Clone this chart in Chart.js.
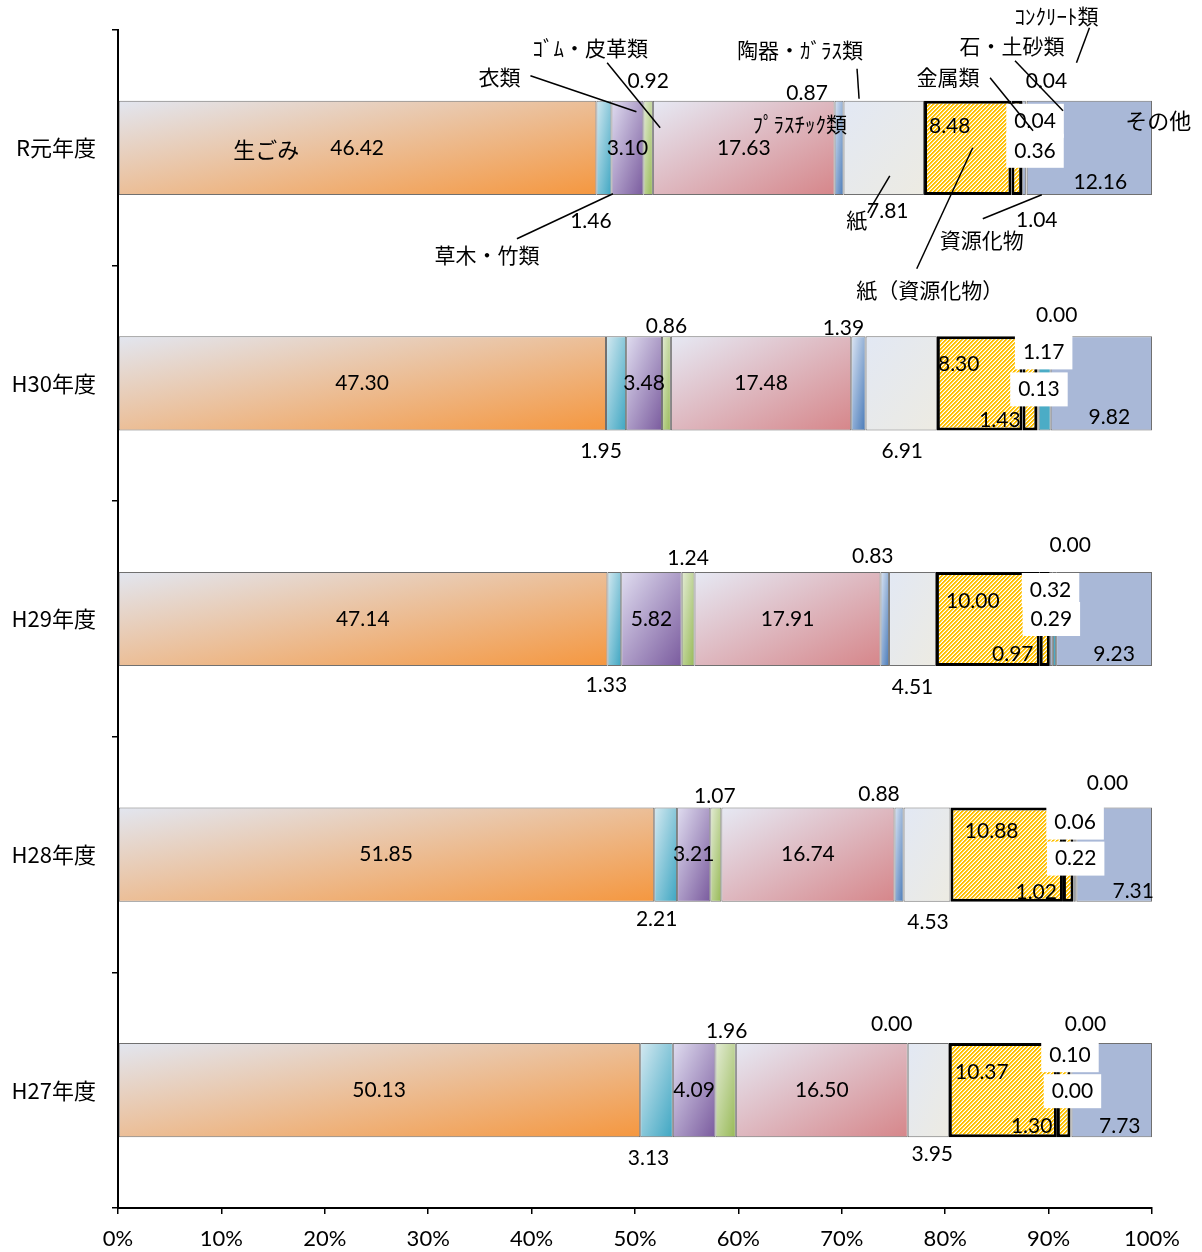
<!DOCTYPE html>
<html><head><meta charset="utf-8">
<script src="https://cdn.jsdelivr.net/npm/chart.js@4.4.1/dist/chart.umd.min.js"></script>
<style>html,body{margin:0;padding:0;background:#fff;}#wrap{width:1202px;height:1252px;}</style>
</head><body><div id="wrap"><canvas id="c" width="1202" height="1252"></canvas></div>
<script>
// ---- data ----
const years = ['R元年度','H30年度','H29年度','H28年度','H27年度'];
const categories = ['生ごみ','草木・竹類','衣類','ｺﾞﾑ・皮革類','ﾌﾟﾗｽﾁｯｸ類','陶器・ｶﾞﾗｽ類','紙','紙（資源化物）','資源化物','石・土砂類','金属類','ｺﾝｸﾘｰﾄ類','その他'];
const foodWaste     = [46.42, 47.30, 47.14, 51.85, 50.13];
const grassWood     = [1.46, 1.95, 1.33, 2.21, 3.13];
const clothing      = [3.10, 3.48, 5.82, 3.21, 4.09];
const rubberLeather = [0.92, 0.86, 1.24, 1.07, 1.96];
const plastics      = [17.63, 17.48, 17.91, 16.74, 16.50];
const ceramicsGlass = [0.87, 1.39, 0.83, 0.88, 0.00];
const paper         = [7.81, 6.91, 4.51, 4.53, 3.95];
const paperRecyc    = [8.48, 8.30, 10.00, 10.88, 10.37];
const recyclables   = [1.04, 1.43, 0.97, 1.02, 1.30];
const stoneSoil     = [0.36, 0.13, 0.29, 0.22, 0.00];
const metals        = [0.04, 1.17, 0.32, 0.06, 0.10];
const concrete      = [0.04, 0.00, 0.00, 0.00, 0.00];
const others        = [12.16, 9.82, 9.23, 7.31, 7.73];
const tickPercents  = [0,10,20,30,40,50,60,70,80,90,100];

const values = [foodWaste, grassWood, clothing, rubberLeather, plastics, ceramicsGlass, paper, paperRecyc, recyclables, stoneSoil, metals, concrete, others];
const totals = years.map((_, i) => values.reduce((s, v) => s + v[i], 0));
const pct = values.map(v => v.map((x, i) => x / totals[i] * 100));

// ---- styles ----
const F = "Lato, 'Noto Sans CJK JP', sans-serif";
const FJ = "'Noto Sans CJK JP', sans-serif";
const BAR_FRAC = 0.4;
const fills = [
  {start:'#e2e6f0', end:'#f5973f'},
  {start:'#d4e9f1', end:'#3ea6c2'},
  {start:'#e0ddf0', end:'#7a5b9e'},
  {start:'#e4ecd6', end:'#97b955'},
  {start:'#e6e9f4', end:'#d6868a'},
  {start:'#dde6f4', end:'#4779b8'},
  {start:'#e2e8f4', end:'#edebe2'},
  'hatch', 'hatch',
  {start:'#c9d3e6', end:'#8597ba'},
  {flat:'#4bacc6'},
  {flat:'#4bacc6'},
  {flat:'#a9b8d7'}
];
const boxed = [false,false,false,false,false,false,false,false,false,true,true,false,false];
const valueOffsets = [
  [[0,0],[0,0],[0,0],[0,0],[0,0]],
  [[-13,73],[-15,68],[-8,66],[-9,65],[-8,68]],
  [[0,0],[0,0],[0,0],[0,0],[0,0]],
  [[0,-67],[0,-57],[0,-61],[-1,-58],[1,-59]],
  [[0,0],[0,0],[0,0],[0,0],[0,0]],
  [[-32,-55],[-15,-55],[-12,-63],[-20,-60],[-16,-66]],
  [[4,63],[1,68],[0,68],[1,68],[4,64]],
  [[-18,-22],[-21,-19],[-15,-18],[-15,-23],[-21,-18]],
  [[20,72],[-30,37],[-32,35],[-32,38],[-32,36]],
  [[11,3],[1,6],[0,0],[1,4],[2,1]],
  [[9,-27],[-1,-31],[-4,-29],[-1,-32],[-1,-35]],
  [[20,-67],[6,-68],[14,-74],[31,-71],[14,-66]],
  [[11,34],[8,34],[10,35],[19,37],[8,36]]
];
// category annotations on the first row: offsets from segment centre
const notes = [
  {ds:0, dx:-91, dy:3, size:22},
  {ds:1, dx:-117, dy:108, line:[-87,91,9,46]},
  {ds:2, dx:-128, dy:-70, line:[-97,-72,9,-36]},
  {ds:3, dx:-58, dy:-99, line:[-41,-85,12,-20]},
  {ds:4, dx:56, dy:-23},
  {ds:5, dx:-39, dy:-97, line:[18,-79,20,-49]},
  {ds:6, dx:-27, dy:73, line:[-16,65,6,28]},
  {ds:7, dx:-38, dy:143, line:[-51,121,5,0]},
  {ds:8, dx:-35, dy:93, line:[-34,71,25,47]},
  {ds:9, dx:-12, dy:-101, line:[-9,-87,39,-37]},
  {ds:10, dx:-78, dy:-70, line:[-36,-70,7,-17]},
  {ds:11, dx:30, dy:-131, size:21, line:[63,-120,50,-85]},
  {ds:12, dx:69, dy:-26, size:22}
];

function makeHatch() {
  const s = 8, cv = document.createElement('canvas');
  cv.width = s; cv.height = s;
  const g = cv.getContext('2d');
  const cols = ['#ffc000', '#ffc000', '#ffe38a', '#ffffff'];
  for (let x = 0; x < s; x++) for (let y = 0; y < s; y++) {
    g.fillStyle = cols[(x + y) % 4];
    g.fillRect(x, y, 1, 1);
  }
  return document.getElementById('c').getContext('2d').createPattern(cv, 'repeat');
}
const hatch = makeHatch();

function segGeom(chart, di, i) {
  const xs = chart.scales.x, ys = chart.scales.y;
  if (!xs || !ys) return null;
  let s = 0;
  for (let k = 0; k < di; k++) s += pct[k][i];
  const x0 = xs.getPixelForValue(s), x1 = xs.getPixelForValue(s + pct[di][i]);
  const h = (ys.bottom - ys.top) / years.length * BAR_FRAC;
  const cy = ys.getPixelForValue(i);
  if (![x0, x1, h, cy].every(Number.isFinite)) return null;
  return {x0, x1, top: cy - h / 2, bottom: cy + h / 2, cx: (x0 + x1) / 2, cy};
}

function fillFor(di) {
  const st = fills[di];
  if (st === 'hatch') return hatch;
  if (st.flat) return st.flat;
  return (ctx) => {
    const chart = ctx.chart;
    if (ctx.type !== 'data') return st.end;
    const g = segGeom(chart, di, ctx.dataIndex);
    if (!g) return st.end;
    const w = Math.max(g.x1 - g.x0, 0.5), h = Math.max(g.bottom - g.top, 0.5);
    const L2 = w * w + h * h;
    const ex = g.x0 + 2 * w * h * h / L2, ey = g.top + 2 * w * w * h / L2;
    if (![ex, ey].every(Number.isFinite)) return st.end;
    const gr = chart.ctx.createLinearGradient(g.x0, g.top, ex, ey);
    gr.addColorStop(0, st.start);
    gr.addColorStop(1, st.end);
    return gr;
  };
}

const annot = {
  id: 'annot',
  afterDatasetsDraw(chart) {
    const c = chart.ctx;
    c.save();
    c.textAlign = 'center'; c.textBaseline = 'middle';
    const items = [];
    for (let d = 0; d < values.length; d++) for (let i = 0; i < years.length; i++) {
      const g = segGeom(chart, d, i);
      if (!g) continue;
      const o = valueOffsets[d][i];
      items.push({t: values[d][i].toFixed(2), x: g.cx + o[0], y: g.cy + o[1], box: boxed[d]});
    }
    c.font = '21px ' + F;
    c.fillStyle = '#fff';
    items.filter(it => it.box).forEach(it => {
      const w = c.measureText(it.t).width + 16;
      c.fillRect(it.x - w / 2, it.y - 17, w, 34);
    });
    c.strokeStyle = '#000'; c.lineWidth = 1.5;
    notes.forEach(n => {
      if (!n.line) return;
      const g = segGeom(chart, n.ds, 0);
      if (!g) return;
      c.beginPath();
      c.moveTo(g.cx + n.line[0], g.cy + n.line[1]);
      c.lineTo(g.cx + n.line[2], g.cy + n.line[3]);
      c.stroke();
    });
    c.fillStyle = '#000';
    items.forEach(it => c.fillText(it.t, it.x, it.y));
    notes.forEach(n => {
      const g = segGeom(chart, n.ds, 0);
      if (!g) return;
      c.font = (n.size || 21) + 'px ' + F;
      c.fillText(categories[n.ds], g.cx + n.dx, g.cy + n.dy);
    });
    c.restore();
  }
};

new Chart(document.getElementById('c'), {
  type: 'bar',
  data: {
    labels: years,
    datasets: values.map((v, d) => ({
      label: categories[d],
      data: pct[d],
      backgroundColor: fillFor(d),
      borderColor: fills[d] === 'hatch' ? '#000' : '#707070',
      borderWidth: fills[d] === 'hatch' ? 3 : 1,
      borderSkipped: false,
      barPercentage: BAR_FRAC,
      categoryPercentage: 1
    }))
  },
  options: {
    responsive: false, animation: false, devicePixelRatio: 1,
    indexAxis: 'y',
    layout: {padding: {top: 30, right: 50, left: 0, bottom: 0}},
    plugins: {legend: {display: false}, tooltip: {enabled: false}},
    scales: {
      x: {
        stacked: true, min: 0, max: 100,
        afterBuildTicks: s => { s.ticks = tickPercents.map(v => ({value: v})); },
        ticks: {callback: v => v + '%', color: '#000', font: {size: 22, family: F}, padding: 12, maxRotation: 0, autoSkip: false},
        grid: {drawOnChartArea: false, drawTicks: true, tickLength: 6, color: '#000', lineWidth: 1.5},
        border: {color: '#000', width: 2},
        afterFit: s => { s.height = 44; }
      },
      y: {
        stacked: true,
        ticks: {color: '#000', font: {size: 22, family: FJ}, padding: 16},
        grid: {drawOnChartArea: false, tickLength: 6, color: '#000', lineWidth: 1.5, offset: true},
        border: {color: '#000', width: 2},
        afterFit: s => { s.width = 118; }
      }
    }
  },
  plugins: [annot]
});
</script></body></html>
